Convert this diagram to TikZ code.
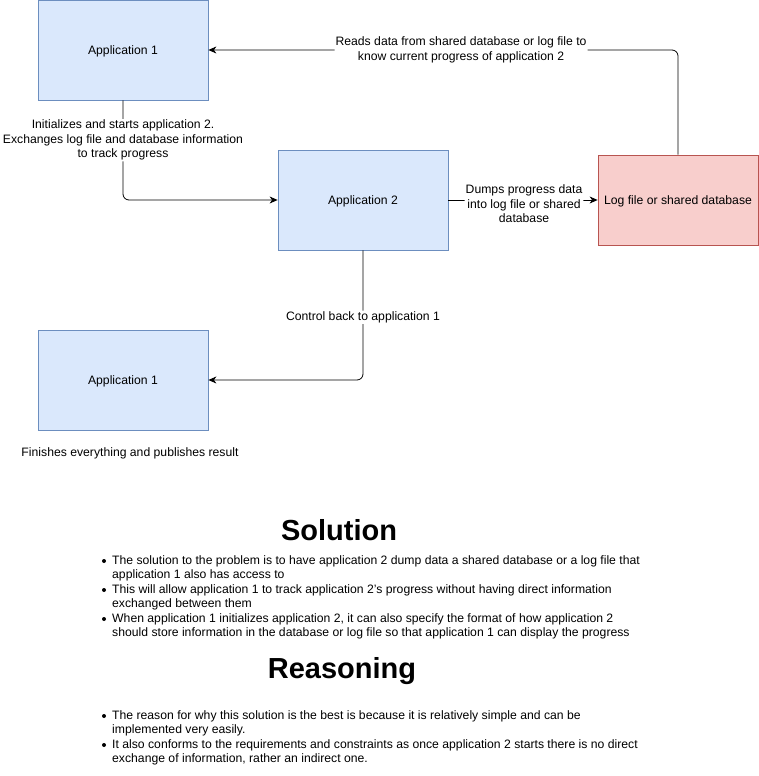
\documentclass[tikz,border=0pt]{standalone}
\usepackage{fontspec}
\setmainfont{Liberation Sans}
\usetikzlibrary{arrows.meta}
\definecolor{bluefill}{HTML}{DAE8FC}
\definecolor{bluedraw}{HTML}{6C8EBF}
\definecolor{redfill}{HTML}{F8CECC}
\definecolor{reddraw}{HTML}{B85450}
\begin{document}
\begin{tikzpicture}[x=1pt,y=-1pt,
  every node/.style={font=\fontsize{12.2}{14.5}\selectfont},
  appbox/.style={draw=bluedraw, fill=bluefill, line width=0.8pt, minimum width=170pt, minimum height=100pt, inner sep=0pt},
  logbox/.style={draw=reddraw, fill=redfill, line width=0.8pt, minimum width=160pt, minimum height=90pt, inner sep=0pt},
  boxtext/.style={yshift=-1.5pt},
  arr/.style={draw=black, line width=0.8pt, rounded corners=6pt, -{Stealth[length=8pt,width=7pt,inset=2.5pt]}},
  elabel/.style={fill=white, inner sep=1pt, align=center},
  heading/.style={font=\fontsize{29}{34}\selectfont\bfseries},
  lineT/.style={anchor=base west, inner sep=0pt},
  bul/.style={circle, fill=black, inner sep=0pt, minimum size=4pt}
]
\useasboundingbox (0,0) rectangle (759,776);

\node[appbox] (a1) at (123,50) {};
\node[appbox] (a2) at (363,200) {};
\node[logbox] (log) at (678,200) {};
\node[appbox] (a1b) at (123,380) {};
\node[boxtext] (t1) at (a1.center) {Application 1};
\node[boxtext] (t2) at (a2.center) {Application 2};
\node[boxtext] (t3) at (log.center) {Log file or shared database};
\node[boxtext] (t4) at (a1b.center) {Application 1};

\draw[arr] (a1.south) |- (a2.west)
  node[elabel, pos=0.19, yshift=-2pt] (l1) {Initializes and starts application 2.\\Exchanges log file and database information\\to track progress};
\draw[arr] (a2.east) -- (log.west)
  node[elabel, pos=0.507, yshift=-4pt] (l2) {Dumps progress data\\into log file or shared\\database};
\draw[arr] (log.north) |- (a1.east)
  node[elabel, pos=0.731] (l3) {Reads data from shared database or log file to\\know current progress of application 2};
\draw[arr] (a2.south) |- (a1b.east)
  node[elabel, pos=0.25, yshift=-2pt] (l4) {Control back to application 1};

\node (fin) at (130,453) {Finishes everything and publishes result};

\node[heading] (sol) at (339,530) {Solution};
\node[bul] (b1) at (104,561) {};
\node[lineT] (s1) at (112,564) {The solution to the problem is to have application 2 dump data a shared database or a log file that};
\node[lineT] (s2) at (112,578.5) {application 1 also has access to};
\node[bul] (b2) at (104,590) {};
\node[lineT] (s3) at (112,593) {This will allow application 1 to track application 2's progress without having direct information};
\node[lineT] (s4) at (112,607.5) {exchanged between them};
\node[bul] (b3) at (104,619) {};
\node[lineT] (s5) at (112,622) {When application 1 initializes application 2, it can also specify the format of how application 2};
\node[lineT] (s6) at (112,636.5) {should store information in the database or log file so that application 1 can display the progress};

\node[heading] (rea) at (342,671) {Reasoning};
\node[bul] (b4) at (104,716) {};
\node[lineT] (r1) at (112,719) {The reason for why this solution is the best is because it is relatively simple and can be};
\node[lineT] (r2) at (112,733.5) {implemented very easily.};
\node[bul] (b5) at (104,745) {};
\node[lineT] (r3) at (112,748) {It also conforms to the requirements and constraints as once application 2 starts there is no direct};
\node[lineT] (r4) at (112,762) {exchange of information, rather an indirect one.};
\end{tikzpicture}
\end{document}
